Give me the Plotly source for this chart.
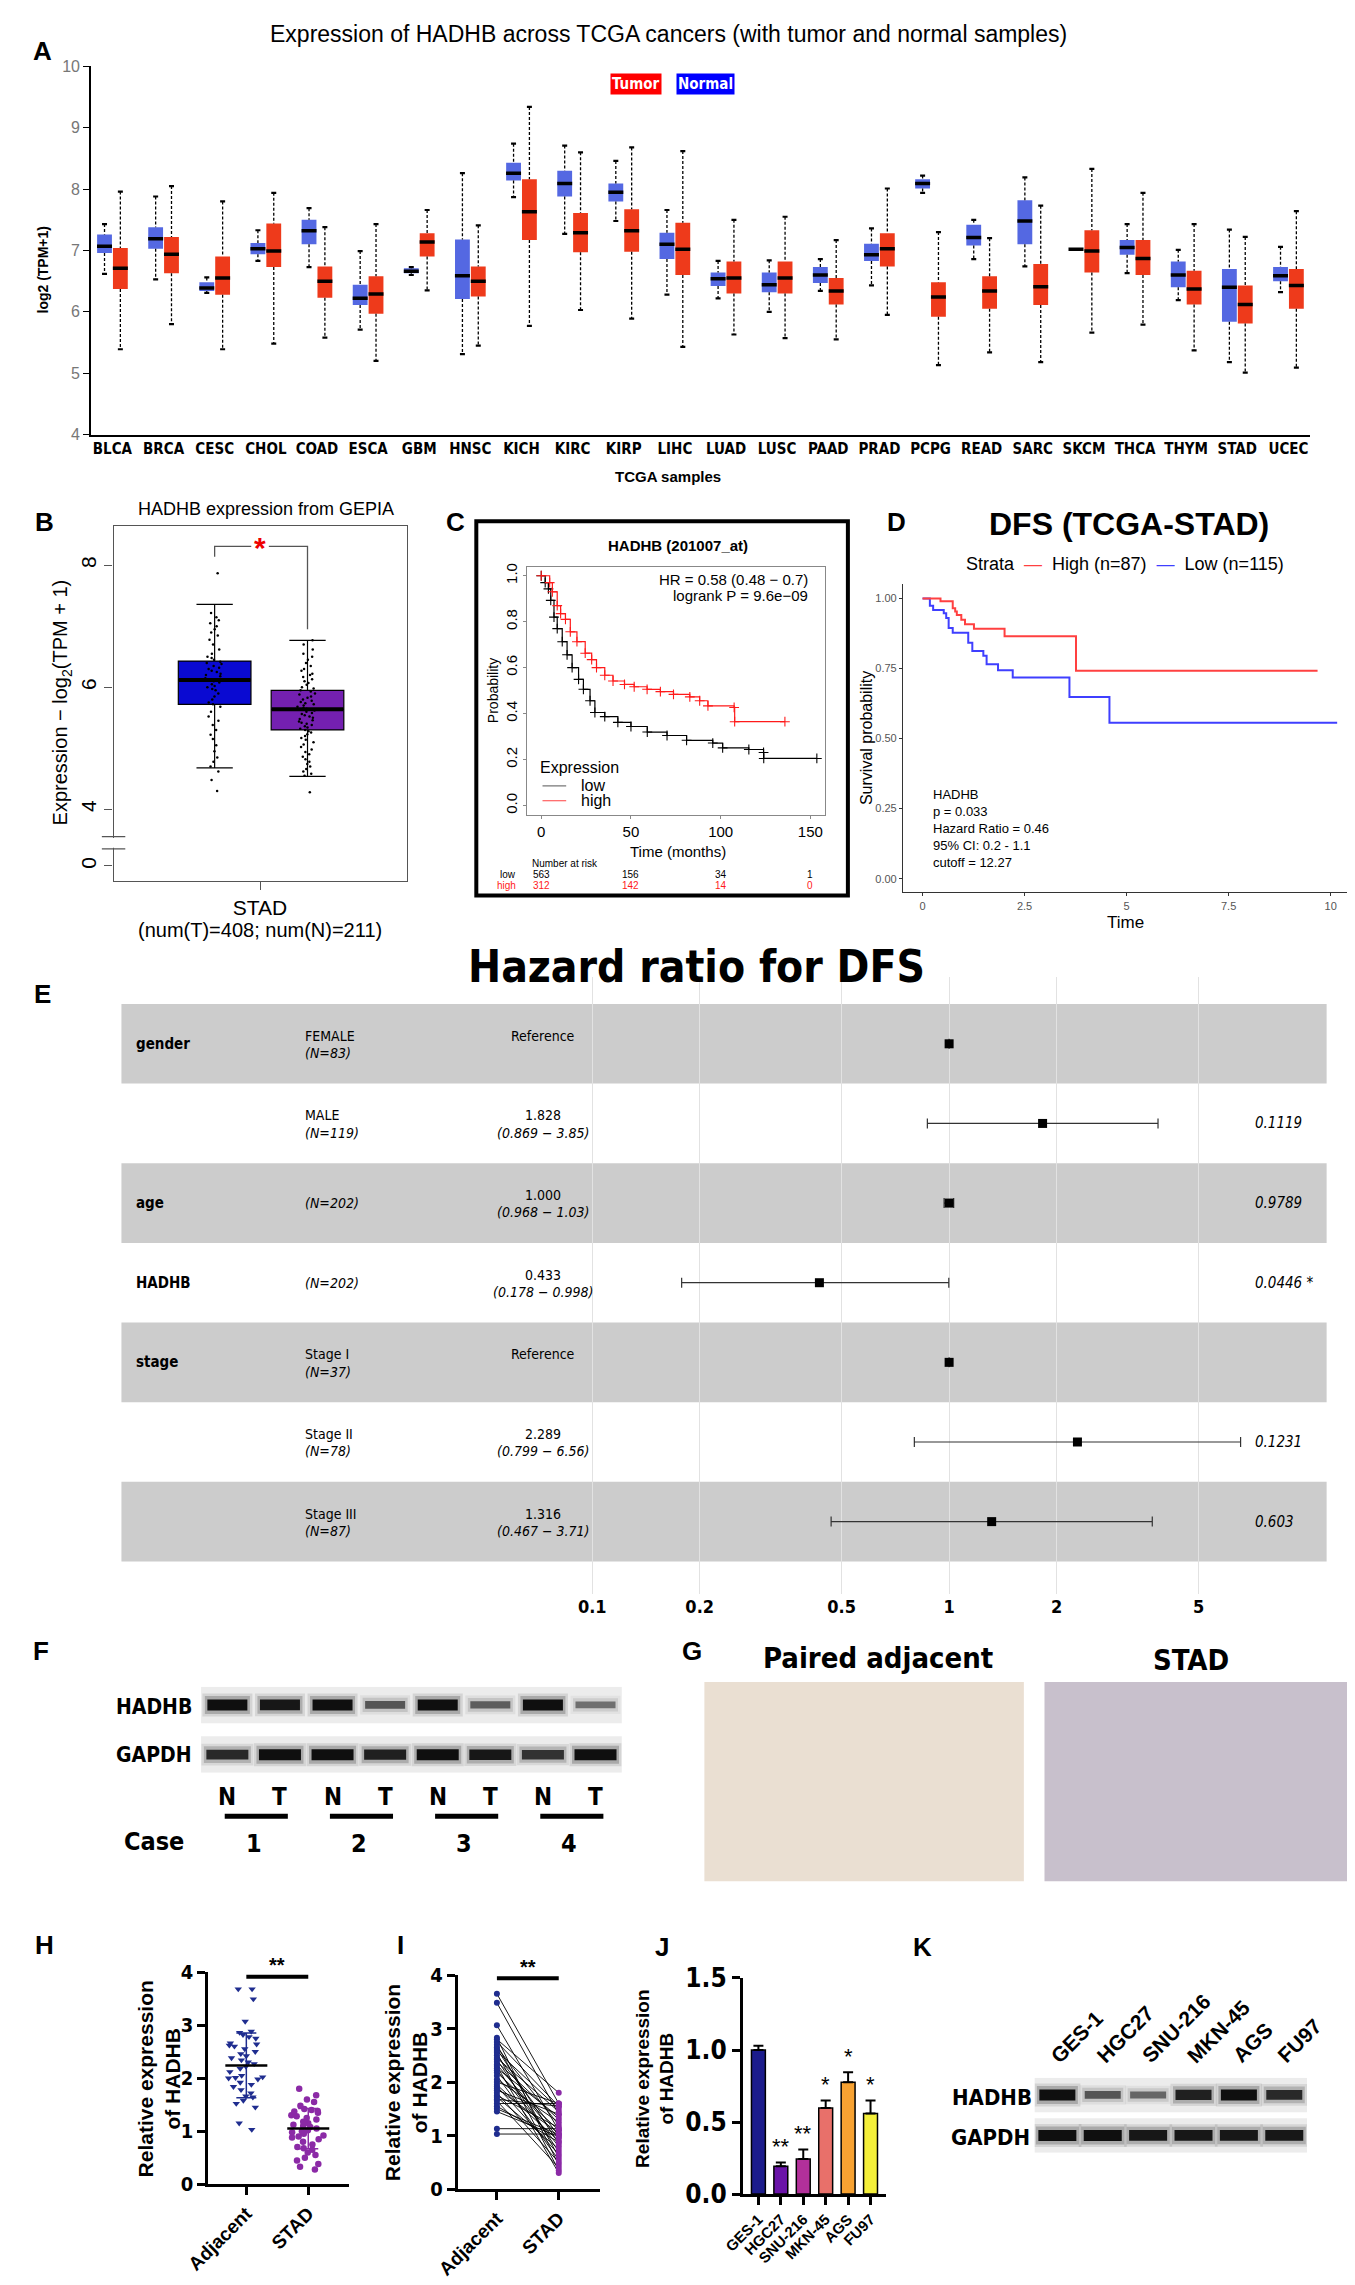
import plotly.graph_objects as go

W, H = 1355, 2285
ARIAL = "Liberation Sans, Arial, Helvetica, sans-serif"
NARROW = "Liberation Sans Narrow, Arial Narrow, DejaVu Sans Condensed, sans-serif"
LINE_EW = 1.4  # plotly draws line-ew markers 1.4x their nominal size

# ---------------- A: HADHB across TCGA cancers ----------------
cancers = ["BLCA", "BRCA", "CESC", "CHOL", "COAD", "ESCA", "GBM", "HNSC", "KICH", "KIRC", "KIRP", "LIHC",
           "LUAD", "LUSC", "PAAD", "PRAD", "PCPG", "READ", "SARC", "SKCM", "THCA", "THYM", "STAD", "UCEC"]
normal_lo = [6.62, 6.53, 6.31, 6.83, 6.73, 5.71, 6.60, 5.31, 7.87, 7.27, 7.48, 6.28, 6.22, 6.00, 6.34, 6.43, 7.94, 6.86, 6.74, 7.02, 6.63, 6.19, 5.18, 6.32]
normal_q1 = [6.96, 7.03, 6.34, 6.94, 7.10, 6.11, 6.63, 6.21, 8.14, 7.88, 7.80, 6.86, 6.42, 6.32, 6.47, 6.83, 8.01, 7.08, 7.10, 7.02, 6.93, 6.40, 5.84, 6.50]
normal_med = [7.07, 7.19, 6.39, 7.03, 7.32, 6.22, 6.66, 6.59, 8.26, 8.09, 7.95, 7.10, 6.54, 6.44, 6.60, 6.93, 8.09, 7.21, 7.48, 7.02, 7.05, 6.60, 6.40, 6.59]
normal_q3 = [7.26, 7.38, 6.48, 7.12, 7.50, 6.44, 6.71, 7.18, 8.43, 8.30, 8.09, 7.29, 6.64, 6.64, 6.73, 7.11, 8.16, 7.42, 7.82, 7.02, 7.17, 6.82, 6.70, 6.73]
normal_hi = [7.43, 7.88, 6.56, 7.33, 7.69, 6.99, 6.73, 8.26, 8.74, 8.71, 8.46, 7.66, 6.83, 6.84, 6.86, 7.36, 8.22, 7.50, 8.19, 7.02, 7.43, 7.01, 7.34, 7.06]
tumor_lo = [5.39, 5.80, 5.39, 5.48, 5.58, 5.20, 6.35, 5.45, 5.77, 6.03, 5.89, 5.43, 5.63, 5.57, 5.55, 5.95, 5.13, 5.34, 5.18, 5.66, 5.79, 5.37, 5.01, 5.09]
tumor_q1 = [6.37, 6.63, 6.28, 6.73, 6.23, 5.97, 6.90, 6.25, 7.17, 6.97, 6.98, 6.60, 6.30, 6.30, 6.12, 6.74, 5.92, 6.05, 6.11, 6.64, 6.60, 6.12, 5.81, 6.05]
tumor_med = [6.71, 6.94, 6.55, 6.99, 6.50, 6.29, 7.14, 6.50, 7.63, 7.29, 7.32, 7.02, 6.55, 6.55, 6.34, 7.03, 6.24, 6.34, 6.41, 6.99, 6.87, 6.37, 6.12, 6.43]
tumor_q3 = [7.04, 7.22, 6.90, 7.44, 6.74, 6.58, 7.28, 6.74, 8.16, 7.61, 7.67, 7.45, 6.82, 6.82, 6.55, 7.28, 6.48, 6.58, 6.78, 7.33, 7.17, 6.67, 6.43, 6.70]
tumor_hi = [7.96, 8.05, 7.80, 7.94, 7.38, 7.43, 7.66, 7.41, 9.34, 8.60, 8.68, 8.62, 7.50, 7.55, 7.17, 8.01, 7.30, 7.20, 7.73, 8.33, 7.94, 7.43, 7.22, 7.64]

# ---------------- B: GEPIA STAD box ----------------
b_q1 = [5.72, 5.30]
b_med = [6.12, 5.64]
b_q3 = [6.43, 5.95]
b_lo = [4.68, 4.54]
b_hi = [7.36, 6.77]
b_left_pts = [7.87, 7.22, 7.15, 7.10, 7.05, 7.00, 6.95, 6.90, 6.85, 6.78, 6.70, 6.62, 6.55, 6.50, 6.48, 6.45,
              6.42, 6.40, 6.38, 6.35, 6.32, 6.30, 6.27, 6.25, 6.22, 6.20, 6.18, 6.15, 6.13, 6.10, 6.08, 6.05,
              6.02, 6.00, 5.97, 5.95, 5.90, 5.85, 5.80, 5.75, 5.72, 5.68, 5.60, 5.52, 5.45, 5.38, 5.30, 5.22,
              5.15, 5.05, 4.95, 4.85, 4.78, 4.70, 4.62, 4.48, 4.30]
b_right_pts = [6.77, 6.70, 6.62, 6.55, 6.50, 6.45, 6.40, 6.35, 6.30, 6.27, 6.22, 6.20, 6.17, 6.13, 6.10, 6.07,
               6.04, 6.00, 5.98, 5.95, 5.93, 5.90, 5.88, 5.85, 5.83, 5.80, 5.78, 5.76, 5.74, 5.72, 5.70, 5.68,
               5.66, 5.65, 5.64, 5.63, 5.62, 5.60, 5.58, 5.56, 5.54, 5.52, 5.50, 5.48, 5.46, 5.44, 5.42, 5.40,
               5.38, 5.36, 5.34, 5.32, 5.30, 5.28, 5.26, 5.23, 5.20, 5.17, 5.14, 5.10, 5.06, 5.02, 4.98, 4.94,
               4.90, 4.86, 4.82, 4.78, 4.74, 4.70, 4.66, 4.62, 4.58, 4.55, 4.28]

# ---------------- C: KM plotter OS ----------------
c_low_t = [0, 2.2, 4.0, 5.3, 7.1, 8.9, 11.7, 14.4, 17.2, 20.8, 23.5, 27.2, 29.9, 35.4, 42.7, 50.0, 59.1, 70.1, 81.0, 95.6, 101.1, 115.7, 123.9, 124.0, 153.6]
c_low_s = [1.0, 0.97, 0.943, 0.893, 0.82, 0.77, 0.713, 0.656, 0.60, 0.549, 0.506, 0.456, 0.405, 0.387, 0.362, 0.344, 0.32, 0.305, 0.284, 0.272, 0.251, 0.244, 0.231, 0.205, 0.205]
c_high_t = [0, 4.7, 6.2, 8.9, 10.8, 13.5, 16.2, 19.9, 24.5, 28.1, 30.8, 35.4, 40.0, 46.4, 51.8, 59.0, 66.4, 73.7, 82.8, 88.3, 92.9, 107.5, 107.8, 135.8]
c_high_s = [1.0, 0.97, 0.93, 0.87, 0.835, 0.81, 0.756, 0.713, 0.663, 0.635, 0.60, 0.567, 0.542, 0.527, 0.517, 0.506, 0.496, 0.484, 0.473, 0.456, 0.434, 0.427, 0.365, 0.365]
risk_times = [0, 50, 100, 150]
risk_low = [563, 156, 34, 1]
risk_high = [312, 142, 14, 0]

# ---------------- D: DFS TCGA-STAD ----------------
d_high_t = [0, 0.44, 0.74, 0.80, 0.84, 0.95, 1.04, 1.26, 2.01, 3.76, 9.68]
d_high_s = [1.0, 0.99, 0.965, 0.953, 0.941, 0.924, 0.908, 0.892, 0.865, 0.742, 0.742]
d_low_t = [0, 0.18, 0.26, 0.52, 0.58, 0.64, 0.74, 1.12, 1.22, 1.49, 1.57, 1.85, 2.21, 3.60, 4.58, 10.16]
d_low_s = [1.0, 0.974, 0.959, 0.947, 0.93, 0.894, 0.877, 0.842, 0.812, 0.795, 0.765, 0.744, 0.718, 0.648, 0.556, 0.556]

# ---------------- E: forest plot ----------------
e_var = ["gender", "", "age", "HADHB", "stage", "", ""]
e_level = ["FEMALE", "MALE", "", "", "Stage I", "Stage II", "Stage III"]
e_n = ["(N=83)", "(N=119)", "(N=202)", "(N=202)", "(N=37)", "(N=78)", "(N=87)"]
e_hr = [1.0, 1.828, 1.000, 0.433, 1.0, 2.289, 1.316]
e_lo = [1.0, 0.869, 0.968, 0.178, 1.0, 0.799, 0.467]
e_hi = [1.0, 3.85, 1.03, 0.998, 1.0, 6.56, 3.71]
e_est = ["Reference", "1.828", "1.000", "0.433", "Reference", "2.289", "1.316"]
e_ci = ["", "(0.869 − 3.85)", "(0.968 − 1.03)", "(0.178 − 0.998)", "", "(0.799 − 6.56)", "(0.467 − 3.71)"]
e_p = ["", "0.1119", "0.9789", "0.0446 *", "", "0.1231", "0.603"]
e_ticks = [0.1, 0.2, 0.5, 1, 2, 5]

# ---------------- F / K: western blots (relative band signal) ----------------
f_lanes = ["N", "T", "N", "T", "N", "T", "N", "T"]
f_cases = ["1", "2", "3", "4"]
f_hadhb = [1.0, 0.95, 1.0, 0.6, 1.0, 0.55, 1.0, 0.45]
f_gapdh = [0.85, 1.0, 1.0, 0.9, 1.0, 0.95, 0.8, 1.0]
k_cells = ["GES-1", "HGC27", "SNU-216", "MKN-45", "AGS", "FU97"]
k_hadhb = [1.0, 0.6, 0.5, 0.9, 1.0, 0.85]
k_gapdh = [1.0, 1.0, 0.95, 0.95, 0.95, 0.95]

# ---------------- H / I: qPCR tissues ----------------
h_groups = ["Adjacent", "STAD"]
h_adj = [3.68, 3.68, 3.49, 3.07, 2.88, 2.86, 2.82, 2.78, 2.75, 2.66, 2.64, 2.62, 2.60, 2.55, 2.50, 2.46, 2.42,
         2.38, 2.34, 2.30, 2.27, 2.22, 2.18, 2.12, 2.05, 2.02, 2.01, 2.00, 1.98, 1.92, 1.88, 1.84, 1.78, 1.72,
         1.66, 1.64, 1.58, 1.52, 1.45, 1.15, 1.03]
h_stad = [1.80, 1.68, 1.60, 1.55, 1.48, 1.42, 1.38, 1.37, 1.35, 1.30, 1.25, 1.22, 1.18, 1.12, 1.08, 1.05, 1.02,
          1.00, 0.98, 0.95, 0.92, 0.88, 0.85, 0.80, 0.75, 0.70, 0.65, 0.60, 0.55, 0.50, 0.45, 0.38, 0.33, 0.28,
          1.10, 1.15, 0.90, 1.40, 1.28, 0.68]
h_mean = [2.24, 1.05]
h_sd = [0.61, 0.38]
i_adj = [3.65, 3.48, 3.06, 2.83, 2.80, 2.75, 2.70, 2.65, 2.62, 2.58, 2.55, 2.50, 2.45, 2.42, 2.38, 2.33, 2.30,
         2.26, 2.22, 2.18, 2.12, 2.05, 2.00, 1.95, 1.92, 1.88, 1.85, 1.80, 1.75, 1.72, 1.68, 1.65, 1.60, 1.55,
         1.50, 1.45, 1.13, 1.03]
i_stad = [1.60, 1.40, 1.10, 0.45, 1.80, 1.55, 0.60, 1.20, 0.85, 1.50, 0.35, 1.00, 1.45, 0.70, 1.30, 0.95, 0.30,
          1.35, 0.80, 1.10, 0.55, 1.25, 1.60, 0.90, 0.65, 1.05, 1.40, 0.50, 1.15, 0.75, 1.55, 0.40, 1.60, 0.88,
          1.02, 0.98, 1.13, 1.03]

# ---------------- J: cell lines ----------------
j_cells = ["GES-1", "HGC27", "SNU-216", "MKN-45", "AGS", "FU97"]
j_mean = [1.00, 0.194, 0.244, 0.598, 0.776, 0.56]
j_err = [0.03, 0.026, 0.066, 0.052, 0.069, 0.09]
j_sig = ["", "**", "**", "*", "*", "*"]
j_colors = ["#1c1c8c", "#6a14a8", "#b2309a", "#e8706a", "#f7a232", "#f4ef3a"]

fig = go.Figure()
annots, shapes, axes = [], [], {}


def xd(a, b):
    return [a / W, b / W]


def yd(top, bottom):
    return [1 - bottom / H, 1 - top / H]


def note(x, y, text, size=14, color="black", family=ARIAL, xanchor="center", yanchor="middle",
         xref="paper", yref="paper", angle=0, weight="normal", **kw):
    # paper positions are given in pixels from the top-left corner
    if xref == "paper":
        x = x / W
    if yref == "paper":
        y = 1 - y / H
    annots.append(dict(x=x, y=y, xref=xref, yref=yref, text=text, showarrow=False, textangle=angle,
                       xanchor=xanchor, yanchor=yanchor,
                       font=dict(size=size, color=color, family=family, weight=weight), **kw))


def axis(n, xdom, ydom, xo=None, yo=None):
    s = "" if n == 1 else str(n)
    base = dict(showgrid=False, zeroline=False)
    axes["xaxis" + s] = {**base, "domain": xdom, "anchor": "y" + s, **(xo or {})}
    axes["yaxis" + s] = {**base, "domain": ydom, "anchor": "x" + s, **(yo or {})}
    return "x" + s, "y" + s


def rect(x0, y0, x1, y1, fill, line=None, layer="below"):
    shapes.append(dict(type="rect", xref="paper", yref="paper", x0=x0 / W, x1=x1 / W, y0=1 - y0 / H,
                       y1=1 - y1 / H, fillcolor=fill, line=line or dict(width=0), layer=layer))


# ================= A =================
xa, ya = axis(1, xd(61, 1301), yd(44, 417),
              dict(range=[-0.42, 23.42], tickvals=list(range(len(cancers))), ticktext=cancers, showline=True,
                   linecolor="black", linewidth=1.5, ticks="",
                   tickfont=dict(family=NARROW, size=15, color="black", weight="bold")),
              dict(range=[4, 10], dtick=1, showline=True, linecolor="black", linewidth=1.5, ticks="outside",
                   ticklen=6, tickcolor="black", tickfont=dict(family=ARIAL, size=16, color="#777")))
xn = [i - 0.155 for i in range(len(cancers))]
xt = [i + 0.155 for i in range(len(cancers))]
for xs, lo, q1, med, q3, hi, col in [(xn, normal_lo, normal_q1, normal_med, normal_q3, normal_hi, "#5468e2"),
                                     (xt, tumor_lo, tumor_q1, tumor_med, tumor_q3, tumor_hi, "#ee3a1b")]:
    wx, wy = [], []
    for x, a, b, c, d in zip(xs, lo, q1, q3, hi):
        wx += [x, x, None, x, x, None]
        wy += [d, c, None, b, a, None]
    fig.add_trace(go.Scatter(x=wx, y=wy, mode="lines", xaxis=xa, yaxis=ya,
                             line=dict(color="black", width=1.3, dash="3px,2px")))
    fig.add_trace(go.Scatter(x=xs + xs, y=lo + hi, mode="markers", xaxis=xa, yaxis=ya,
                             marker=dict(symbol="line-ew", size=5 / LINE_EW, line=dict(width=2.2, color="black"))))
    fig.add_trace(go.Bar(x=xs, y=[b - a for a, b in zip(q1, q3)], base=q1, width=0.29, xaxis=xa, yaxis=ya,
                         marker=dict(color=col, line=dict(width=0))))
    fig.add_trace(go.Scatter(x=xs, y=med, mode="markers", xaxis=xa, yaxis=ya,
                             marker=dict(symbol="line-ew", size=15 / LINE_EW, line=dict(width=3.5, color="black"))))
note(648, 11, "Expression of HADHB across TCGA cancers (with tumor and normal samples)", size=23)
note(12, 250, "log2 (TPM+1)", size=14, angle=-90, weight="bold")
note(648, 460, "TCGA samples", size=15, weight="bold")
note(615, 62, "Tumor", size=15, color="white", family=NARROW, weight="bold", bgcolor="#ff0000", borderpad=1)
note(686, 62, "Normal", size=15, color="white", family=NARROW, weight="bold", bgcolor="#0000ff", borderpad=1)

# ================= B =================
b_pos = [0.345, 0.662]
b_colors = ["#0a0ad2", "#7420b0"]
xb, yb = axis(2, xd(84, 382), yd(510, 869),
              dict(range=[0, 1], tickvals=[0.5], ticktext=["STAD"], showline=True, mirror=True,
                   linecolor="#555", linewidth=1.3, ticks="outside", ticklen=8, tickcolor="#555",
                   tickfont=dict(family=ARIAL, size=21)),
              dict(range=[2.83, 8.64], tickvals=[3.07, 4, 6, 8], ticktext=["0", "4", "6", "8"], tickangle=-90,
                   showline=True, mirror=True, linecolor="#555", linewidth=1.3, ticks="outside", ticklen=8,
                   tickcolor="#555", tickfont=dict(family=ARIAL, size=21)))
for i in range(2):
    fig.add_trace(go.Box(x=[b_pos[i]], q1=[b_q1[i]], median=[b_med[i]], q3=[b_q3[i]], lowerfence=[b_lo[i]],
                         upperfence=[b_hi[i]], width=0.248, whiskerwidth=0.5, fillcolor=b_colors[i],
                         line=dict(color="black", width=1.2), xaxis=xb, yaxis=yb))
fig.add_trace(go.Scatter(x=b_pos, y=b_med, mode="markers", xaxis=xb, yaxis=yb,
                         marker=dict(symbol="line-ew", size=72 / LINE_EW, line=dict(width=4, color="black"))))
for pos, pts in zip(b_pos, [b_left_pts, b_right_pts]):
    fig.add_trace(go.Box(x=[pos] * len(pts), y=pts, boxpoints="all", jitter=0.28, pointpos=0, width=0.248,
                         fillcolor="rgba(0,0,0,0)", line=dict(width=0, color="rgba(0,0,0,0)"),
                         marker=dict(size=2.5, color="black"), xaxis=xb, yaxis=yb))
# significance bracket
fig.add_trace(go.Scatter(x=[b_pos[0], b_pos[0], 0.47, None, 0.53, b_pos[1], b_pos[1]],
                         y=[8.14, 8.31, 8.31, None, 8.31, 8.31, 6.95], mode="lines", xaxis=xb, yaxis=yb,
                         line=dict(color="#555", width=1.3)))
note(0.5, 8.29, "*", size=30, color="#ee0000", xref=xb, yref=yb, weight="bold")
# axis break
shapes.append(dict(type="rect", xref="x2 domain", yref="y2", x0=-0.02, x1=0.02, y0=3.37, y1=3.53,
                   fillcolor="white", line=dict(width=0), layer="above"))
for yv in [3.35, 3.55]:
    shapes.append(dict(type="line", xref="x2 domain", yref="y2", x0=-0.04, x1=0.04, y0=yv, y1=yv,
                       line=dict(color="#555", width=1.3), layer="above"))
note(239, 492, "HADHB expression from GEPIA", size=18)
note(32, 688, "Expression − log<sub>2</sub>(TPM + 1)", size=20, angle=-90)
note(233, 919, "(num(T)=408; num(N)=211)", size=20)

# ================= C =================
xc, yc = axis(3, xd(505, 808), yd(551, 803),
              dict(range=[-7.7, 158.3], tickvals=risk_times, showline=True, mirror=True, linecolor="#888",
                   ticks="outside", ticklen=3, tickcolor="#888", tickfont=dict(family=ARIAL, size=15)),
              dict(range=[-0.043, 1.039], tickvals=[0, 0.2, 0.4, 0.6, 0.8, 1.0], tickformat=".1f",
                   tickangle=-90, showline=True, mirror=True, linecolor="#888", ticks="outside", ticklen=3,
                   tickcolor="#888", tickfont=dict(family=ARIAL, size=15)))
for t, s, col in [(c_low_t, c_low_s, "black"), (c_high_t, c_high_s, "#ff1a1a")]:
    fig.add_trace(go.Scatter(x=t, y=s, mode="lines+markers", xaxis=xc, yaxis=yc,
                             line=dict(shape="hv", color=col, width=1.2),
                             marker=dict(symbol="cross-thin", size=7, line=dict(width=1.1, color=col))))
note(658, 529, "HADHB (201007_at)", size=15, weight="bold")
note(150, 0.985, "HR = 0.58 (0.48 − 0.7)", size=15, xref=xc, yref=yc, xanchor="right")
note(150, 0.915, "logrank P = 9.6e−09", size=15, xref=xc, yref=yc, xanchor="right")
note(-2, 0.167, "Expression", size=16, xref=xc, yref=yc, xanchor="left")
for yv, lab, col in [(0.086, "low", "#777"), (0.021, "high", "#ff4040")]:
    shapes.append(dict(type="line", xref=xc, yref=yc, x0=0.7, x1=13.9, y0=yv, y1=yv, line=dict(color=col, width=1.2)))
    note(20.8, yv, lab, size=16, xref=xc, yref=yc, xanchor="left")
note(470, 677, "Probability", size=14, angle=-90)
note(658, 840, "Time (months)", size=15)
note(508, 852, "Number at risk", size=10, xanchor="left")
note(495, 863, "low", size=10, xanchor="right")
note(495, 874, "high", size=10, xanchor="right", color="#ff1a1a")
for t, nl, nh in zip(risk_times, risk_low, risk_high):
    note(t, 863, str(nl), size=10, xref=xc)
    note(t, 874, str(nh), size=10, xref=xc, color="#ff1a1a")
rect(453, 505, 831, 884, "rgba(0,0,0,0)", line=dict(color="black", width=4), layer="above")

# ================= D =================
xdd, ydd = axis(4, xd(887, 1342), yd(568, 881),
                dict(range=[-0.48, 10.48], tickvals=[0, 2.5, 5, 7.5, 10], ticktext=["0", "2.5", "5", "7.5", "10"],
                     showline=True, linecolor="#333", ticks="outside", ticklen=3, tickcolor="#333",
                     tickfont=dict(family=ARIAL, size=11, color="#555")),
                dict(range=[-0.049, 1.053], tickvals=[0, 0.25, 0.5, 0.75, 1.0], tickformat=".2f",
                     showline=True, linecolor="#333", ticks="outside", ticklen=3, tickcolor="#333",
                     tickfont=dict(family=ARIAL, size=11, color="#555")))
for t, s, col in [(d_low_t, d_low_s, "#3f3fff"), (d_high_t, d_high_s, "#ff4040")]:
    fig.add_trace(go.Scatter(x=t, y=s, mode="lines", xaxis=xdd, yaxis=ydd, line=dict(shape="hv", color=col, width=2)))
note(1117, 508, "DFS (TCGA-STAD)", size=32, weight="bold")
note(1113, 548, "Strata  <span style='color:#ff4040'>—</span>  High (n=87)  "
                "<span style='color:#3f3fff'>—</span>  Low (n=115)", size=18)
note(0.2, 0.335, "HADHB<br>p = 0.033<br>Hazard Ratio = 0.46<br>95% CI: 0.2 - 1.1<br>cutoff = 12.27",
     size=13, xref=xdd, yref=ydd, xanchor="left", yanchor="top", align="left")
note(850, 725, "Survival probability", size=16, angle=-90)
note(1113, 911, "Time", size=17)

# ================= E =================
xe, ye = axis(5, xd(92, 1318), yd(967, 1592),
              dict(type="log", range=[-2.3196, 1.058], tickvals=e_ticks, ticktext=[str(v) for v in e_ticks],
                   showgrid=True, gridcolor="#e2e2e2", ticks="",
                   tickfont=dict(family=NARROW, size=18, weight="bold")),
              dict(range=[6.91, -0.835], visible=False))
rows = list(range(len(e_hr)))
for k in rows[::2]:
    shapes.append(dict(type="rect", xref="x5 domain", yref=ye, x0=0, x1=1, y0=k - 0.5, y1=k + 0.5,
                       fillcolor="#cccccc", line=dict(width=0), layer="below"))
shapes.append(dict(type="line", xref=xe, yref="y5 domain", x0=0, x1=0, y0=0, y1=1,
                   line=dict(color="#555", width=1, dash="dot")))
fig.add_trace(go.Scatter(x=e_hr, y=rows, mode="markers", xaxis=xe, yaxis=ye,
                         marker=dict(symbol="square", size=9, color="black"),
                         error_x=dict(type="data", symmetric=False, array=[h - m for h, m in zip(e_hi, e_hr)],
                                      arrayminus=[m - lo for lo, m in zip(e_lo, e_hr)], color="#333",
                                      thickness=1.2, width=5)))
for k in rows:
    if e_var[k]:
        note(105, k, e_var[k], size=15, family=NARROW, weight="bold", xanchor="left", yref=ye)
    if e_level[k]:
        note(277, k - 0.1, e_level[k], size=14, family=NARROW, xanchor="left", yref=ye)
        note(277, k + 0.115, "<i>" + e_n[k] + "</i>", size=14, family=NARROW, xanchor="left", yref=ye)
    else:
        note(277, k, "<i>" + e_n[k] + "</i>", size=14, family=NARROW, xanchor="left", yref=ye)
    note(521, k - 0.1, e_est[k], size=14, family=NARROW, yref=ye)
    if e_ci[k]:
        note(521, k + 0.115, "<i>" + e_ci[k] + "</i>", size=14, family=NARROW, yref=ye)
    if e_p[k]:
        note(1243, k, "<i>" + e_p[k] + "</i>", size=15, family=NARROW, xanchor="left", yref=ye)
note(677, 956, "Hazard ratio for DFS", size=44, family=NARROW, weight="bold")

# ================= F =================
xf, yf = axis(6, xd(173, 601), yd(1686, 1773), dict(range=[-0.5, 7.5], visible=False),
              dict(range=[0, 1], visible=False))


def blot(xax, yax, xdomref, signal, ypos, length, strip):
    shapes.append(dict(type="rect", xref=xdomref, yref=yax, x0=0, x1=1, y0=strip[0], y1=strip[1],
                       fillcolor="#ececec", line=dict(width=0), layer="below"))
    lanes = list(range(len(signal)))
    for grow, alpha in [(10, 0.12), (5, 0.25)]:
        fig.add_trace(go.Scatter(x=lanes, y=[ypos] * len(lanes), mode="markers", xaxis=xax, yaxis=yax,
                                 marker=dict(symbol="line-ew", size=(length + grow) / LINE_EW,
                                             line=dict(width=[4 + grow + 9 * s for s in signal],
                                                       color=["rgba(40,40,40,%.2f)" % (alpha * s) for s in signal]))))
    fig.add_trace(go.Scatter(x=lanes, y=[ypos] * len(lanes), mode="markers", xaxis=xax, yaxis=yax,
                             marker=dict(symbol="line-ew", size=length / LINE_EW,
                                         line=dict(width=[3 + 8 * s for s in signal],
                                                   color=["rgb(%d,%d,%d)" % ((int(190 - 175 * s),) * 3) for s in signal]))))


blot(xf, yf, "x6 domain", f_hadhb, 0.79, 40, (0.575, 1.0))
blot(xf, yf, "x6 domain", f_gapdh, 0.21, 42, (0.0, 0.425))
note(125, 1706, "HADHB", size=21, family=NARROW, weight="bold")
note(125, 1755, "GAPDH", size=21, family=NARROW, weight="bold")
for i, lab in enumerate(f_lanes):
    note(i, 1798, lab, size=24, family=NARROW, weight="bold", xref=xf)
for c, lab in enumerate(f_cases):
    shapes.append(dict(type="line", xref=xf, yref="paper", x0=2 * c - 0.05, x1=2 * c + 1.15,
                       y0=1 - 1817 / H, y1=1 - 1817 / H, line=dict(color="black", width=5)))
    note(2 * c + 0.5, 1845, lab, size=25, family=NARROW, weight="bold", xref=xf)
note(125, 1843, "Case", size=25, family=NARROW, weight="bold")

# ================= G =================
rect(685, 1681, 1010, 1883, "#eadfd2")
rect(1031, 1681, 1355, 1883, "#c8c0cc")
note(862, 1657, "Paired adjacent", size=29, family=NARROW, weight="bold")
note(1180, 1659, "STAD", size=29, family=NARROW, weight="bold")

# ================= H =================
ax_style = dict(showline=True, linecolor="black", linewidth=2.5, ticks="outside", ticklen=8, tickwidth=2.5,
                tickcolor="black")
xh, yh = axis(8, xd(180, 323), yd(1975, 2190),
              dict(range=[-0.62, 1.65], tickvals=[0, 1], ticktext=h_groups, tickangle=-45,
                   tickfont=dict(family=ARIAL, size=19, weight="bold"), **ax_style),
              dict(range=[0, 4], dtick=1, tickfont=dict(family=NARROW, size=20, weight="bold"), **ax_style))
for pos, pts, sym, col in [(0, h_adj, "triangle-down", "#1f2d8f"), (1, h_stad, "circle", "#8b2aa6")]:
    fig.add_trace(go.Box(x=[pos] * len(pts), y=pts, boxpoints="all", jitter=1, pointpos=0, width=0.62,
                         fillcolor="rgba(0,0,0,0)", line=dict(width=0, color="rgba(0,0,0,0)"),
                         marker=dict(symbol=sym, size=6.5, color=col), xaxis=xh, yaxis=yh))
    fig.add_trace(go.Scatter(x=[pos], y=[h_mean[pos]], mode="markers", xaxis=xh, yaxis=yh,
                             marker=dict(symbol="line-ew", size=42 / LINE_EW, line=dict(width=2.5, color="black")),
                             error_y=dict(type="data", array=[h_sd[pos]], color=col, thickness=1.5, width=10)))
shapes.append(dict(type="line", xref=xh, yref=yh, x0=0, x1=1, y0=3.91, y1=3.91, line=dict(color="black", width=4)))
note(0.5, 1968, "**", size=20, xref=xh, weight="bold")
note(130, 2083, "Relative expression<br>of HADHB", size=21, angle=-90, weight="bold")

# ================= I =================
xi, yi = axis(9, xd(434, 579), yd(1978, 2195),
              dict(range=[-0.635, 1.67], tickvals=[0, 1], ticktext=h_groups, tickangle=-45,
                   tickfont=dict(family=ARIAL, size=19, weight="bold"), **ax_style),
              dict(range=[0, 4], dtick=1, tickfont=dict(family=NARROW, size=20, weight="bold"), **ax_style))
lx, ly = [], []
for a, b in zip(i_adj, i_stad):
    lx += [0, 1, None]
    ly += [a, b, None]
fig.add_trace(go.Scatter(x=lx, y=ly, mode="lines", xaxis=xi, yaxis=yi, line=dict(color="black", width=0.9)))
fig.add_trace(go.Scatter(x=[0] * len(i_adj), y=i_adj, mode="markers", xaxis=xi, yaxis=yi,
                         marker=dict(size=6, color="#1f2d8f")))
fig.add_trace(go.Scatter(x=[1] * len(i_stad), y=i_stad, mode="markers", xaxis=xi, yaxis=yi,
                         marker=dict(size=6, color="#8b2aa6")))
shapes.append(dict(type="line", xref=xi, yref=yi, x0=0, x1=1, y0=3.94, y1=3.94, line=dict(color="black", width=4)))
note(0.5, 1970, "**", size=20, xref=xi, weight="bold")
note(381, 2087, "Relative expression<br>of HADHB", size=21, angle=-90, weight="bold")

# ================= J =================
xj, yj = axis(10, xd(724, 870), yd(1981, 2200),
              dict(range=[-0.7, 5.7], tickvals=list(range(len(j_cells))), ticktext=j_cells, tickangle=-45,
                   tickfont=dict(family=ARIAL, size=15, weight="bold"), **ax_style),
              dict(range=[0, 1.5], tickvals=[0, 0.5, 1.0, 1.5], tickformat=".1f",
                   tickfont=dict(family=NARROW, size=26, weight="bold"), **ax_style))
fig.add_trace(go.Bar(x=list(range(len(j_cells))), y=j_mean, width=0.62, xaxis=xj, yaxis=yj,
                     marker=dict(color=j_colors, line=dict(color="black", width=1.5)),
                     error_y=dict(type="data", symmetric=False, array=j_err, arrayminus=[0] * len(j_err),
                                  color="black", thickness=2, width=5)))
for i, (m, e, s) in enumerate(zip(j_mean, j_err, j_sig)):
    if s:
        note(i, m + e + 0.01, s, size=22, xref=xj, yref=yj, yanchor="bottom")
note(634, 2083, "Relative expression<br>of HADHB", size=19, angle=-90, weight="bold")

# ================= K =================
xk, yk = axis(11, xd(1021, 1298), yd(2082, 2158), dict(range=[-0.5, 5.5], visible=False),
              dict(range=[0, 1], visible=False))
blot(xk, yk, "x11 domain", k_hadhb, 0.77, 36, (0.54, 1.0))
blot(xk, yk, "x11 domain", k_gapdh, 0.23, 38, (0.0, 0.46))
for i, lab in enumerate(k_cells):
    note(i - 0.3, 2074, lab, size=21, weight="bold", xref=xk, angle=-45, xanchor="left", yanchor="bottom")
note(978, 2102, "HADHB", size=22, family=NARROW, weight="bold")
note(976, 2143, "GAPDH", size=22, family=NARROW, weight="bold")

# panel letters
for lab, x, y in [("A", 12, 28), ("B", 14, 506), ("C", 432, 506), ("D", 880, 506), ("E", 12, 984),
                  ("F", 10, 1650), ("G", 672, 1650), ("H", 14, 1948), ("I", 376, 1948), ("J", 642, 1950),
                  ("K", 907, 1950)]:
    note(x, y, lab, size=26, weight="bold")

fig.update_layout(width=W, height=H, margin=dict(l=0, r=0, t=0, b=0), showlegend=False,
                  paper_bgcolor="white", plot_bgcolor="white", barmode="overlay",
                  font=dict(family=ARIAL, color="black"),
                  annotations=annots, shapes=shapes, **axes)
fig.write_html("out.html")
